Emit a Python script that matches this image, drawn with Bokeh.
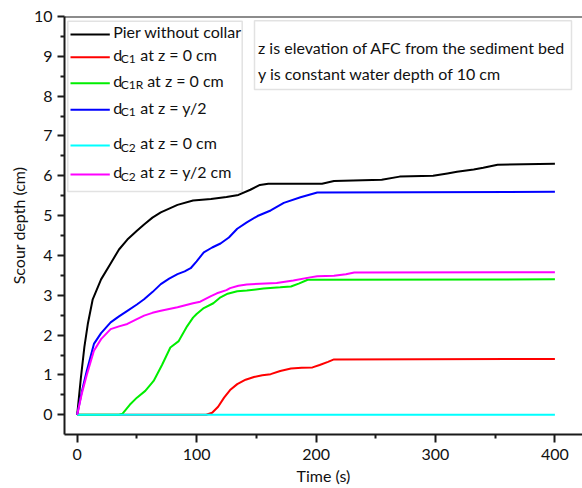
from bokeh.plotting import figure
from bokeh.models import Range1d, FixedTicker, Span, BoxAnnotation, Label
from bokeh.embed import file_html
from bokeh.resources import INLINE

# ---- data ----
t_black = [0, 3, 6, 9, 13, 20, 28, 35, 42, 50, 56, 63, 70, 84, 97, 112, 125, 135, 145, 153, 160,
           205, 215, 255, 270, 298, 310, 318, 332, 340, 352, 400]
y_black = [0, 0.9, 1.7, 2.3, 2.9, 3.4, 3.8, 4.15, 4.4, 4.62, 4.78, 4.95, 5.08, 5.27, 5.38, 5.42, 5.47,
           5.52, 5.65, 5.77, 5.8, 5.8, 5.87, 5.9, 5.98, 6.0, 6.06, 6.1, 6.16, 6.2, 6.28, 6.3]

t_red = [0, 108, 113, 118, 123, 128, 134, 141, 148, 155, 162, 170, 179, 188, 197, 203, 210, 215, 400]
y_red = [0, 0, 0.05, 0.2, 0.43, 0.62, 0.77, 0.88, 0.95, 0.99, 1.02, 1.1, 1.16, 1.18, 1.19, 1.25, 1.33,
         1.39, 1.4]

t_green = [0, 35, 38, 44, 50, 57, 64, 71, 78, 85, 92, 97, 100, 106, 114, 120, 126, 134, 142, 156, 170,
           179, 186, 193, 400]
y_green = [0, 0, 0.03, 0.25, 0.43, 0.6, 0.85, 1.25, 1.69, 1.85, 2.22, 2.44, 2.53, 2.68, 2.8, 2.95, 3.04,
           3.1, 3.12, 3.17, 3.2, 3.22, 3.3, 3.39, 3.4]

t_blue = [0, 4, 8, 14, 20, 28, 35, 42, 50, 56, 63, 70, 77, 84, 90, 95, 100, 106, 113, 120, 127, 134,
          142, 151, 162, 173, 187, 201, 400]
y_blue = [0, 0.6, 1.1, 1.78, 2.05, 2.32, 2.47, 2.61, 2.77, 2.9, 3.08, 3.28, 3.42, 3.53, 3.6, 3.68, 3.85,
          4.08, 4.2, 4.3, 4.45, 4.67, 4.83, 4.99, 5.13, 5.32, 5.46, 5.58, 5.6]

t_cyan = [0, 400]
y_cyan = [0, 0]

t_magenta = [0, 4, 8, 14, 20, 28, 35, 42, 50, 56, 63, 70, 84, 97, 103, 112, 117, 125, 128, 135, 142,
             153, 167, 181, 195, 201, 215, 225, 232, 400]
y_magenta = [0, 0.55, 1.0, 1.61, 1.9, 2.15, 2.22, 2.28, 2.4, 2.49, 2.56, 2.61, 2.7, 2.8, 2.84, 2.98,
             3.05, 3.13, 3.18, 3.24, 3.27, 3.29, 3.31, 3.37, 3.45, 3.48, 3.49, 3.53, 3.57, 3.58]

x_ticks = [0, 100, 200, 300, 400]
x_minor = [50, 150, 250, 350]
y_ticks = [0, 1, 2, 3, 4, 5, 6, 7, 8, 9, 10]
y_minor = [0.5 + i for i in range(10)]

series = [
    ("black", t_black, y_black, "#000000", "Pier without collar", None, ""),
    ("red", t_red, y_red, "#ff0000", "d", "C1", "at z = 0 cm"),
    ("green", t_green, y_green, "#00ee00", "d", "C1R", "at z = 0 cm"),
    ("blue", t_blue, y_blue, "#0000ff", "d", "C1", "at z = y/2"),
    ("cyan", t_cyan, y_cyan, "#00ffff", "d", "C2", "at z = 0 cm"),
    ("magenta", t_magenta, y_magenta, "#ff00ff", "d", "C2", "at z = y/2 cm"),
]
notes = ["z is elevation of AFC from the sediment bed", "y is constant water depth of 10 cm"]

# ---- layout ----
W, H = 582, 488
FL, FT, FB = 64, 16, 434
X0, X1 = -10.63, 423.1
Y0, Y1 = -0.495, 10.0
FONT = "Lato"
DY = -8.5   # label vertical correction (px)
DX = 0.0    # label horizontal correction (px)


def sx(px):
    return X0 + (px - FL) * (X1 - X0) / (W - FL)


def sy(py):
    return Y1 - (py - FT) * (Y1 - Y0) / (FB - FT)


p = figure(width=W, height=H, x_range=Range1d(X0, X1), y_range=Range1d(Y0, Y1),
           output_backend="svg", toolbar_location=None,
           min_border_left=FL, min_border_right=0, min_border_top=FT, min_border_bottom=H - FB)
p.outline_line_color = None
p.grid.visible = False
p.background_fill_color = "white"
p.border_fill_color = "white"

p.xaxis.ticker = FixedTicker(ticks=x_ticks, minor_ticks=x_minor)
p.yaxis.ticker = FixedTicker(ticks=y_ticks, minor_ticks=y_minor)
p.xaxis.axis_label = "Time (s)"
p.yaxis.axis_label = "Scour depth (cm)"
for ax in (p.xaxis, p.yaxis):
    ax.axis_line_width = 2
    ax.axis_line_color = "#1a1a1a"
    ax.major_tick_line_width = 2
    ax.major_tick_line_color = "#1a1a1a"
    ax.minor_tick_line_width = 2
    ax.minor_tick_line_color = "#1a1a1a"
    ax.major_tick_in = 0
    ax.minor_tick_in = 0
    ax.minor_tick_out = 4
    ax.major_label_text_font = FONT
    ax.major_label_text_font_size = "16px"
    ax.major_label_text_color = "#111111"
    ax.axis_label_text_font = FONT
    ax.axis_label_text_font_size = "16px"
    ax.axis_label_text_font_style = "normal"
    ax.axis_label_text_color = "#111111"
p.xaxis.major_tick_out = 8
p.yaxis.major_tick_out = 7
p.xaxis.major_label_standoff = 6
p.yaxis.major_label_standoff = 5
p.xaxis.axis_label_standoff = 3
p.yaxis.axis_label_standoff = 3

p.add_layout(Span(location=Y1, dimension="width", line_color="#1a1a1a", line_width=2))

# boxes drawn beneath glyphs
p.add_layout(BoxAnnotation(left=sx(67.3), right=sx(241.7), top=sy(20.7), bottom=sy(191),
                           fill_color="white", fill_alpha=1.0, line_color="#a0a0a0", line_width=1.5,
                           level="underlay"))
p.add_layout(BoxAnnotation(left=sx(254), right=sx(571), top=sy(20.3), bottom=sy(89),
                           fill_color="white", fill_alpha=1.0, line_color="#a0a0a0", line_width=1.5,
                           level="underlay"))

for name, tx, ty, col, *_ in series:
    p.line(tx, ty, line_color=col, line_width=2)

row_y = [34, 56.7, 82.7, 109.3, 145, 174]
for (name, tx, ty, col, main, sub, rest), ry in zip(series, row_y):
    p.line([sx(70), sx(109.3)], [sy(ry), sy(ry)], line_color=col, line_width=2)
    base = ry + 5.8 + DY
    p.add_layout(Label(x=sx(112.7 + DX), y=sy(base), text=main, text_font=FONT, text_font_size="16px",
                       text_baseline="alphabetic", text_align="left", text_color="#111111"))
    if sub:
        p.add_layout(Label(x=sx(120.3 + DX), y=sy(base + 4.4), text=sub, text_font=FONT,
                           text_font_size="12px", text_baseline="alphabetic", text_align="left",
                           text_color="#111111"))
        rx = 146.7 if len(sub) == 3 else 139.8
        p.add_layout(Label(x=sx(rx + DX), y=sy(base), text=rest, text_font=FONT, text_font_size="16px",
                           text_baseline="alphabetic", text_align="left", text_color="#111111"))

for note, by in zip(notes, [55.5, 81.5]):
    p.add_layout(Label(x=sx(257.5 + DX), y=sy(by + DY), text=note, text_font=FONT, text_font_size="16px",
                       text_baseline="alphabetic", text_align="left", text_color="#111111"))

open("out.html", "w").write(file_html(p, INLINE))
